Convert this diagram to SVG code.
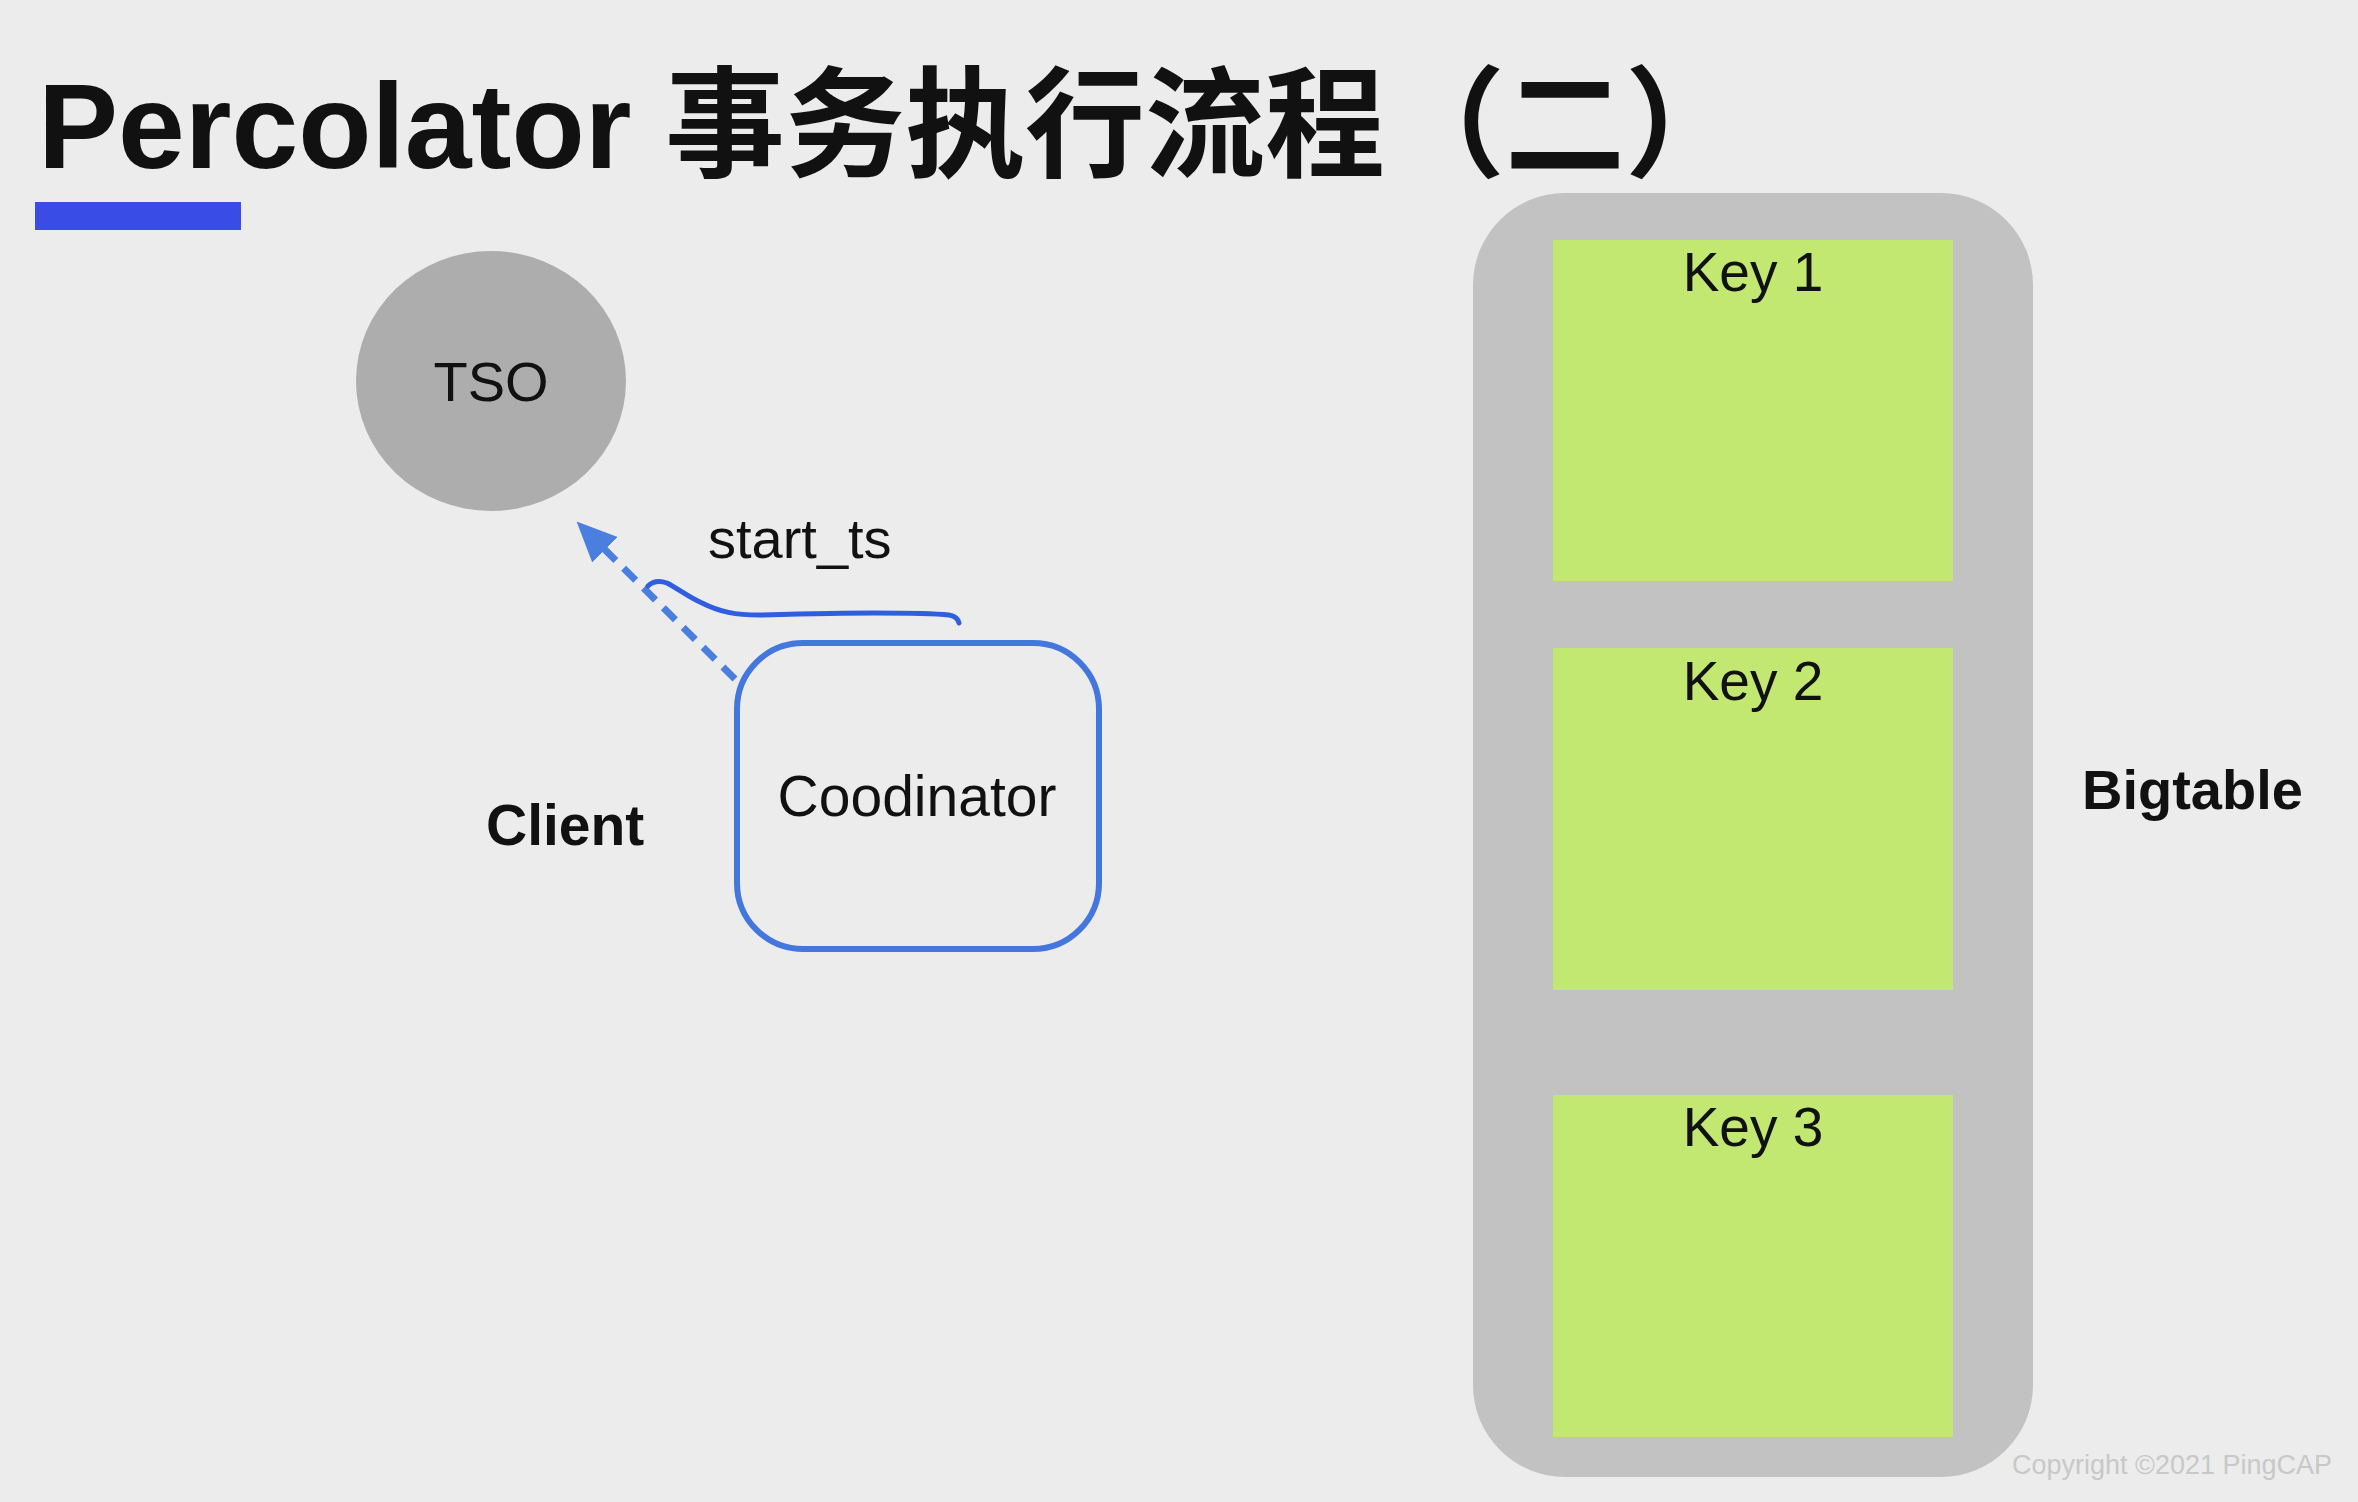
<svg xmlns="http://www.w3.org/2000/svg" width="2358" height="1502" viewBox="0 0 2358 1502">
<defs>
<style>
.t{font-family:"Liberation Sans","Noto Sans CJK SC",Arial,sans-serif;fill:#111}
.b{font-weight:bold}
.key{fill:#c2e872}
</style>
<marker id="ah" viewBox="0 0 40 36" refX="38" refY="18" markerWidth="40" markerHeight="36" markerUnits="userSpaceOnUse" orient="auto">
<path d="M0,0 L40,18 L0,36 Z" fill="#4a7fe0"/>
</marker>
</defs>
<rect width="2358" height="1502" fill="#ececec"/>
<g id="title">
<text class="t b" x="38" y="168" font-size="120">Percolator 事务执行流程（二）</text>
<rect x="35" y="202" width="206" height="28" fill="#3a4ce6"/>
</g>
<g id="tso">
<ellipse cx="491" cy="381" rx="135" ry="130" fill="#adadad"/>
<text class="t" x="491" y="401" font-size="56" text-anchor="middle">TSO</text>
</g>
<g id="client">
<text class="t b" x="486" y="845" font-size="57">Client</text>
</g>
<g id="coordinator">
<rect x="737" y="643" width="362" height="306" rx="66" fill="none" stroke="#4477dd" stroke-width="6"/>
<text class="t" x="917" y="816" font-size="57" text-anchor="middle">Coodinator</text>
</g>
<g id="bigtable">
<rect x="1473" y="193" width="560" height="1284" rx="92" fill="#c2c2c2"/>
<rect class="key" x="1553" y="240" width="400" height="341"/>
<rect class="key" x="1553" y="648" width="400" height="342"/>
<rect class="key" x="1553" y="1095" width="400" height="342"/>
<text class="t" x="1753" y="291" font-size="55" text-anchor="middle">Key 1</text>
<text class="t" x="1753" y="700" font-size="55" text-anchor="middle">Key 2</text>
<text class="t" x="1753" y="1146" font-size="55" text-anchor="middle">Key 3</text>
<text class="t b" x="2082" y="809" font-size="56">Bigtable</text>
</g>
<g id="connectors">
<line x1="735" y1="679" x2="578" y2="523" stroke="#4a7fe0" stroke-width="7" stroke-dasharray="17 11" marker-end="url(#ah)"/>
<text class="t" x="708" y="558" font-size="56">start_ts</text>
<path d="M648,586 C652,582 658,580 667,583 C680,590 690,598 702,603 C720,612 735,615 760,615 C800,614 840,613 874,613 C900,613 930,613 949,615 C955,616 958,619 959,623" fill="none" stroke="#2f5fe0" stroke-width="5" stroke-linecap="round"/>
</g>
<text x="2012" y="1474" font-size="27" fill="#c8c8c8" font-family="Liberation Sans,Arial,sans-serif">Copyright ©2021 PingCAP</text>
</svg>
